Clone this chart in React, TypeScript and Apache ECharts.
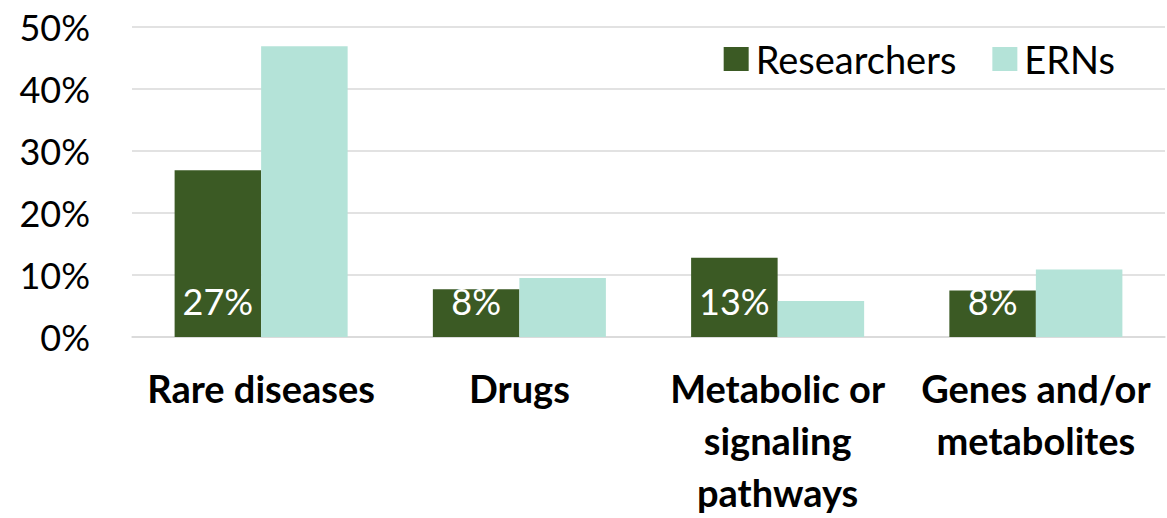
import React, { useEffect, useRef } from "react";
import * as echarts from "echarts";

const categories = [
  "Rare diseases",
  "Drugs",
  "Metabolic or\nsignaling\npathways",
  "Genes and/or\nmetabolites",
];
const researchers = [26.9, 7.7, 12.8, 7.5];
const erns = [46.9, 9.5, 5.8, 10.9];
const yTicks = [0, 10, 20, 30, 40, 50];

const FONT = "Lato";

export default function App() {
  const ref = useRef<HTMLDivElement>(null);
  useEffect(() => {
    document.body.style.margin = "0";
    const chart = echarts.init(ref.current!, null, { renderer: "svg" });
    chart.setOption({
      animation: false,
      backgroundColor: "#ffffff",
      textStyle: { fontFamily: FONT },
      grid: {
        left: 132,
        right: 2,
        top: 27,
        bottom: 181,
        containLabel: false,
        outerBoundsMode: "none",
      },
      legend: {
        top: 40,
        right: 52,
        padding: 0,
        itemWidth: 25,
        itemHeight: 24,
        itemGap: 36,
        icon: "rect",
        textStyle: { fontSize: 38, color: "#000", fontFamily: FONT, padding: [0, 0, 0, 2] },
        data: ["Researchers", "ERNs"],
      },
      xAxis: {
        type: "category",
        data: categories,
        axisLine: { show: true, lineStyle: { color: "#d9d9d9", width: 1.5 } },
        axisTick: { show: false },
        axisLabel: {
          interval: 0,
          fontSize: 38,
          fontWeight: "bold",
          color: "#000",
          lineHeight: 52,
          margin: 25,
          fontFamily: FONT,
        },
      },
      yAxis: {
        type: "value",
        min: yTicks[0],
        max: yTicks[yTicks.length - 1],
        interval: 10,
        axisLine: { show: false },
        axisTick: { show: false },
        splitLine: { lineStyle: { color: "#d9d9d9", width: 1.5 } },
        axisLabel: {
          formatter: (v: number) => `${v}%`,
          fontSize: 36,
          color: "#000",
          margin: 42,
          fontFamily: FONT,
        },
      },
      series: [
        {
          name: "Researchers",
          type: "bar",
          data: researchers,
          barGap: "0%",
          barCategoryGap: "33%",
          itemStyle: { color: "#3b5a24" },
          label: {
            show: true,
            position: "insideBottom",
            distance: 18,
            color: "#fff",
            fontSize: 36,
            fontFamily: FONT,
            formatter: (p: any) => `${Math.round(p.value)}%`,
          },
        },
        {
          name: "ERNs",
          type: "bar",
          data: erns,
          barGap: "0%",
          barCategoryGap: "33%",
          itemStyle: { color: "#b4e3d8" },
        },
      ],
    });
    return () => chart.dispose();
  }, []);
  return <div ref={ref} style={{ width: 1167, height: 518 }} />;
}
